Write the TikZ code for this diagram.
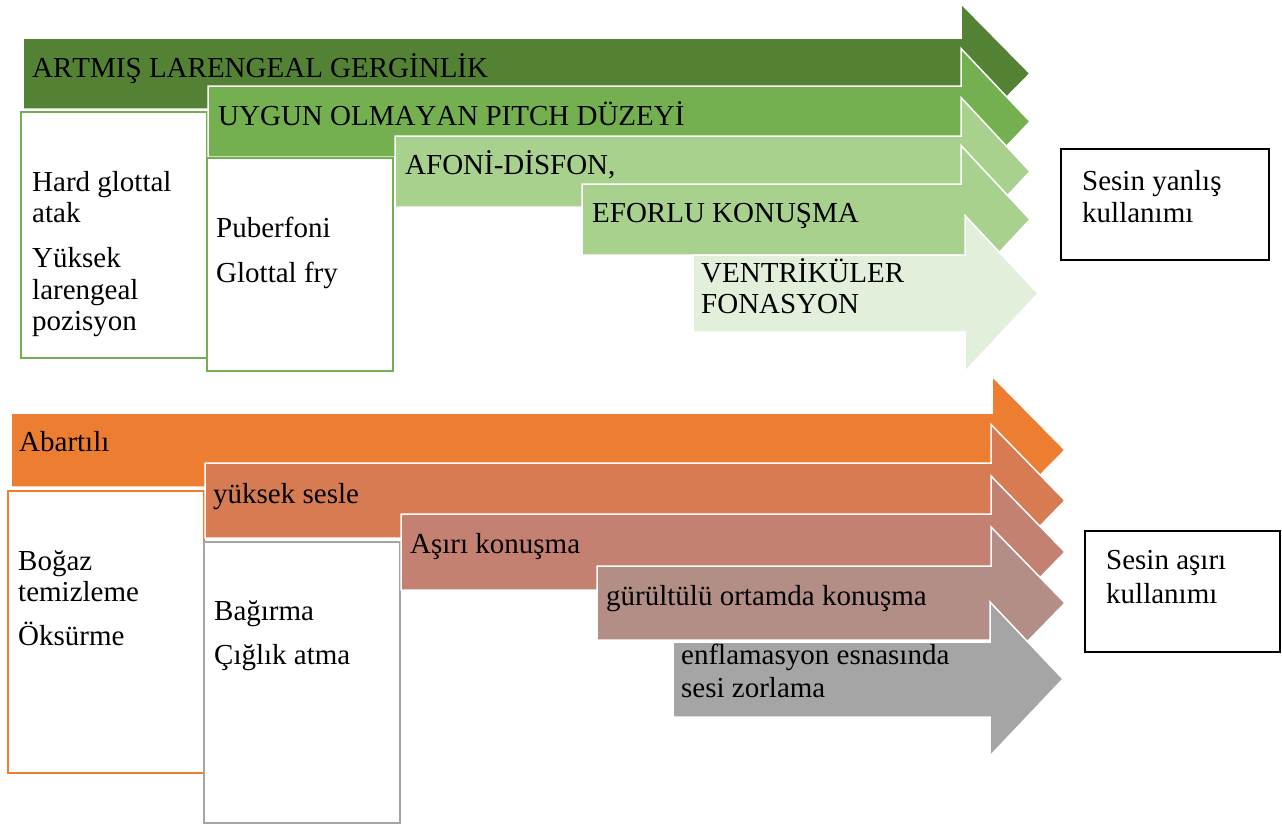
\documentclass[tikz,border=0pt]{standalone}
\usepackage{fontspec}
\setmainfont{Liberation Serif}[Kerning=Off]
\definecolor{gA1}{HTML}{548235}
\definecolor{gA2}{HTML}{74B050}
\definecolor{gA3}{HTML}{A9D18E}
\definecolor{gA5}{HTML}{E2EFDA}
\definecolor{oB1}{HTML}{ED7D31}
\definecolor{oB2}{HTML}{D77B53}
\definecolor{oB3}{HTML}{C48070}
\definecolor{oB4}{HTML}{B38E87}
\definecolor{oB5}{HTML}{A5A5A5}
\begin{document}
\begin{tikzpicture}[x=1pt,y=-1pt,
  txt/.style={anchor=base west, inner sep=0pt, font=\fontsize{29}{32}\selectfont},
  arrw/.style={draw=white, line width=1.5pt, line join=miter},
  gbox/.style={draw=gA2, line width=2.2pt, fill=white},
  obox/.style={draw=oB1, line width=2.2pt, fill=white},
  ybox/.style={draw=oB5, line width=2.2pt, fill=white},
  kbox/.style={draw=black, line width=2pt, fill=white}]
\useasboundingbox (0,0) rectangle (1282,825);

% ---------- top group ----------
\path[arrw, fill=gA1] (23,38) -- (961,38) -- (961,3.5) -- (1030,73.5) -- (961,143.5) -- (961,109) -- (23,109) -- cycle;
\path[gbox] (21,112) rectangle (207,358);
\path[arrw, fill=gA2] (208,86) -- (961,86) -- (961,48.5) -- (1030,121.5) -- (961,194.5) -- (961,157) -- (208,157) -- cycle;
\path[gbox] (207,158) rectangle (393,371);
\path[arrw, fill=gA3] (395,136) -- (961,136) -- (961,97.5) -- (1030,171.5) -- (961,245.5) -- (961,207) -- (395,207) -- cycle;
\path[arrw, fill=gA3] (582,184) -- (961,184) -- (961,145.5) -- (1030,219.5) -- (961,293.5) -- (961,255) -- (582,255) -- cycle;
\path[arrw, fill=gA5] (693,255) -- (965,255) -- (965,215.5) -- (1038,293.5) -- (965,371.5) -- (965,332) -- (693,332) -- cycle;

\node[txt] (a1) at (32,77) {ARTMIŞ LARENGEAL GERGİNLİK};
\node[txt] (a2) at (218,125) {UYGUN OLMAYAN PITCH DÜZEYİ};
\node[txt] (a3) at (405,174) {AFONİ-DİSFON,};
\node[txt] (a4) at (592,222) {EFORLU KONUŞMA};
\node[txt] (a5a) at (701,282) {VENTRİKÜLER};
\node[txt] (a5b) at (701,313) {FONASYON};
\node[txt] (p1a) at (32,191) {Hard glottal};
\node[txt] (p1b) at (32,222) {atak};
\node[txt] (p1c) at (32,267) {Yüksek};
\node[txt] (p1d) at (32,299) {larengeal};
\node[txt] (p1e) at (32,330) {pozisyon};
\node[txt] (p2a) at (216,237) {Puberfoni};
\node[txt] (p2b) at (216,282) {Glottal fry};
\path[kbox] (1061,149) rectangle (1269,260);
\node[txt] (r1a) at (1082,190) {Sesin yanlış};
\node[txt] (r1b) at (1082,222) {kullanımı};

% ---------- bottom group ----------
\path[arrw, fill=oB1] (11,413) -- (992,413) -- (992,376) -- (1065,450) -- (992,524) -- (992,487) -- (11,487) -- cycle;
\path[obox] (8,491) rectangle (204,773);
\path[arrw, fill=oB2] (205,463) -- (991,463) -- (991,424.5) -- (1065,500.5) -- (991,576.5) -- (991,538) -- (205,538) -- cycle;
\path[ybox] (204,542) rectangle (400,823);
\path[arrw, fill=oB3] (401,514) -- (991,514) -- (991,476) -- (1065,552) -- (991,628) -- (991,590) -- (401,590) -- cycle;
\path[arrw, fill=oB4] (597,566) -- (991,566) -- (991,527) -- (1065,603) -- (991,679) -- (991,640) -- (597,640) -- cycle;
\path[arrw, fill=oB5] (673,642) -- (990,642) -- (990,602) -- (1063,679) -- (990,756) -- (990,717) -- (673,717) -- cycle;

\node[txt] (b1) at (19,451) {Abartılı};
\node[txt] (b2) at (213,503) {yüksek sesle};
\node[txt] (b3) at (410,553) {Aşırı konuşma};
\node[txt] (b4) at (606,605) {gürültülü ortamda konuşma};
\node[txt] (b5a) at (681,664) {enflamasyon esnasında};
\node[txt] (b5b) at (681,697) {sesi zorlama};
\node[txt] (q1a) at (18,570) {Boğaz};
\node[txt] (q1b) at (18,601) {temizleme};
\node[txt] (q1c) at (18,645) {Öksürme};
\node[txt] (q2a) at (214,620) {Bağırma};
\node[txt] (q2b) at (214,664) {Çığlık atma};
\path[kbox] (1085,531) rectangle (1280,652);
\node[txt] (r2a) at (1106,569) {Sesin aşırı};
\node[txt] (r2b) at (1106,603) {kullanımı};
\end{tikzpicture}
\end{document}
